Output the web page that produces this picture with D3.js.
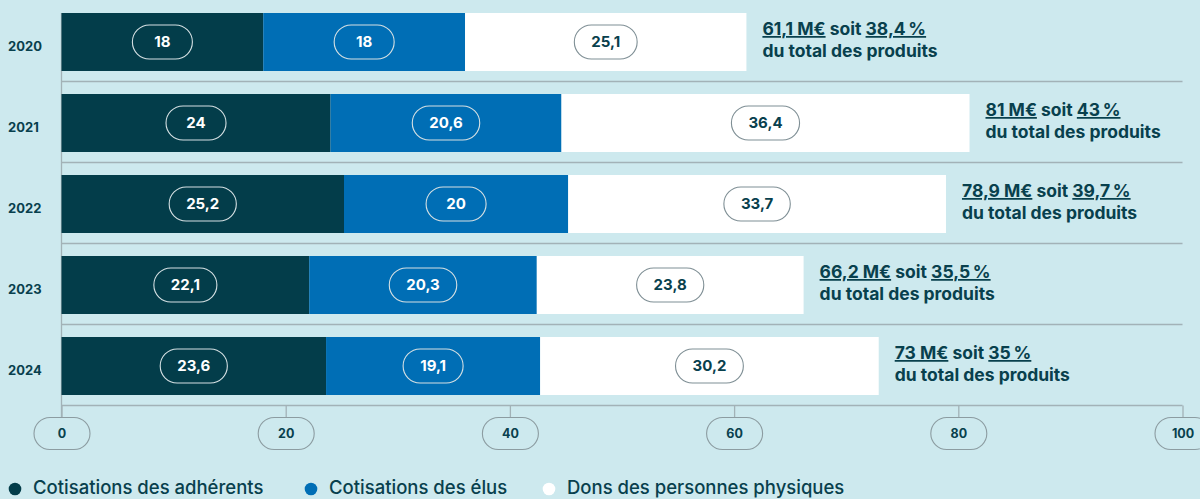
<!DOCTYPE html>
<html>
<head>
<meta charset="utf-8">
<script src="https://cdn.jsdelivr.net/npm/d3@7"></script>
<style>
  body { margin: 0; background: #cde9ee; }
  svg { display: block; font-family: Inter, "Noto Sans", sans-serif; }
</style>
</head>
<body>
<svg id="chart"></svg>
<script>
// data
const years = ["2020", "2021", "2022", "2023", "2024"];
const adherents = [18, 24, 25.2, 22.1, 23.6];
const elus = [18, 20.6, 20, 20.3, 19.1];
const dons = [25.1, 36.4, 33.7, 23.8, 30.2];
const totals = ["61,1", "81", "78,9", "66,2", "73"];
const shares = ["38,4", "43", "39,7", "35,5", "35"];
const xTicks = [0, 20, 40, 60, 80, 100];
const seriesNames = ["Cotisations des adhérents", "Cotisations des élus", "Dons des personnes physiques"];

const colors = ["#033d4a", "#006eb5", "#ffffff"];
const dark = "#08404d";

const svgWidth = 1200, svgHeight = 499;
const svg = d3.select("#chart").attr("width", svgWidth).attr("height", svgHeight);

const fr = d3.formatLocale({ decimal: ",", thousands: " ", grouping: [3], currency: ["", " €"] });
const fmt = v => fr.format("~r")(v);

// rows for the stack
const keys = ["adh", "elus", "dons"];
const rows = years.map((y, i) => ({ year: y, adh: adherents[i], elus: elus[i], dons: dons[i] }));
const stacked = d3.stack().keys(keys)(rows);

// scales
const x = d3.scaleLinear().domain([0, 100]).range([61.5, 1182.5]);
const y = d3.scaleBand().domain(years).range([0, 405]);
const barTop = 13, barH = 58;

// grid lines under each row
svg.append("g").selectAll("line")
  .data(years)
  .enter().append("line")
  .attr("x1", x(0)).attr("x2", x(100))
  .attr("y1", d => y(d) + y.bandwidth() + 0.5)
  .attr("y2", d => y(d) + y.bandwidth() + 0.5)
  .attr("stroke", "#a2b2b7").attr("stroke-width", 1.3);

svg.append("line")
  .attr("x1", x(0)).attr("x2", x(0))
  .attr("y1", barTop).attr("y2", y.range()[1] + 12)
  .attr("stroke", "#a2b2b7").attr("stroke-width", 1.3);

// bars
const layer = svg.append("g").selectAll("g")
  .data(stacked)
  .enter().append("g")
  .attr("fill", (d, i) => colors[i]);

layer.selectAll("rect")
  .data(d => d)
  .enter().append("rect")
  .attr("x", d => x(d[0]))
  .attr("y", d => y(d.data.year) + barTop)
  .attr("width", d => x(d[1]) - x(d[0]))
  .attr("height", barH);

// value pills
stacked.forEach((s, si) => {
  const g = svg.append("g");
  s.forEach(d => {
    const cx = (x(d[0]) + x(d[1])) / 2;
    const cy = y(d.data.year) + barTop + barH / 2;
    const onWhite = si === 2;
    const pill = g.append("g").attr("transform", "translate(" + cx + "," + cy + ")");
    const rect = pill.append("rect")
      .attr("fill", "none")
      .attr("stroke", onWhite ? "#7f8f95" : "#d5e0e3")
      .attr("stroke-width", 1.1);
    const t = pill.append("text")
      .attr("text-anchor", "middle")
      .attr("dy", "0.36em")
      .attr("font-size", 15)
      .attr("font-weight", 700)
      .attr("fill", onWhite ? dark : "#ffffff")
      .text(fmt(d[1] - d[0]));
    const w = Math.max(60, t.node().getComputedTextLength() + 34);
    rect.attr("x", -w / 2).attr("y", -17).attr("width", w).attr("height", 34).attr("rx", 17);
  });
});

// year labels
svg.append("g").selectAll("text")
  .data(years)
  .enter().append("text")
  .attr("x", 8)
  .attr("y", d => y(d) + barTop + barH / 2 + 4)
  .attr("dy", "0.35em")
  .attr("font-size", 13)
  .attr("font-weight", 700)
  .attr("fill", dark)
  .text(d => d);

// totals on the right
rows.forEach((r, i) => {
  const end = d3.sum(keys, k => r[k]);
  const tx = x(end) + 16;
  const top = y(r.year) + barTop;
  const t = svg.append("text")
    .attr("x", tx).attr("y", top + 22)
    .attr("font-size", 17.5).attr("font-weight", 700).attr("fill", dark);
  t.append("tspan").style("text-decoration", "underline").text(totals[i] + " M€");
  t.append("tspan").text(" soit ");
  t.append("tspan").style("text-decoration", "underline").text(shares[i] + "\u202F%");
  svg.append("text")
    .attr("x", tx).attr("y", top + 44)
    .attr("font-size", 17.5).attr("font-weight", 700).attr("fill", dark)
    .text("du total des produits");
});

// x axis
const axisY = y.range()[1] + 0.5;
const xAxis = d3.axisBottom(x).tickValues(xTicks).tickSize(12).tickSizeOuter(0).tickFormat(d => d);
const ax = svg.append("g")
  .attr("transform", "translate(0," + axisY + ")")
  .call(xAxis);
ax.select(".domain").remove();
ax.selectAll(".tick line").attr("stroke", "#a2b2b7").attr("stroke-width", 1.3);
ax.selectAll(".tick").insert("rect", "text")
  .attr("x", -28).attr("y", 12).attr("width", 56).attr("height", 32).attr("rx", 16)
  .attr("fill", "none").attr("stroke", "#8c9ca1").attr("stroke-width", 1.1);
ax.selectAll(".tick text")
  .attr("y", 28).attr("dy", "0.35em")
  .attr("font-family", "Inter, sans-serif")
  .attr("font-size", 12.5).attr("font-weight", 700).attr("fill", dark);

// legend
const legendX = [15, 311, 549];
const legend = svg.append("g").selectAll("g")
  .data(seriesNames)
  .enter().append("g")
  .attr("transform", (d, i) => "translate(" + legendX[i] + ",489)");
legend.append("circle").attr("r", 6.3).attr("fill", (d, i) => colors[i]);
legend.append("text")
  .attr("x", 18).attr("y", 5)
  .attr("font-size", 18.5).attr("font-weight", 500).attr("fill", dark)
  .text(d => d);
</script>
</body>
</html>
